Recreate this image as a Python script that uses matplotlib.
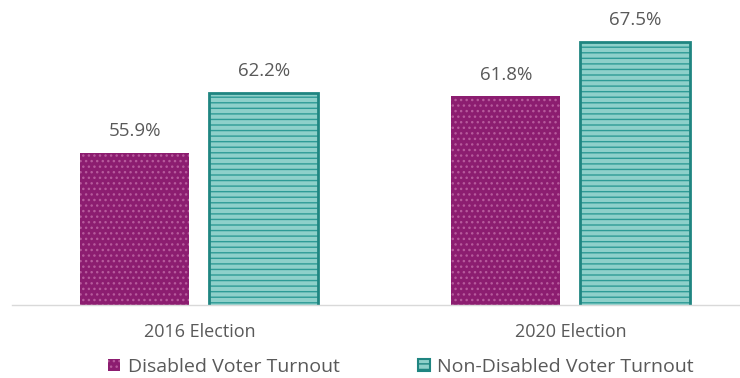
import matplotlib.pyplot as plt
import matplotlib.patches as mpatches
import numpy as np

# Turnout by election (percent)
elections = ['2016 Election', '2020 Election']
disabled = [55.9, 61.8]
non_disabled = [62.2, 67.5]
series_names = ['Disabled Voter Turnout', 'Non-Disabled Voter Turnout']

plt.rcParams['font.family'] = ['Open Sans', 'DejaVu Sans']
plt.rcParams['hatch.linewidth'] = 1.0

text_grey = '#595959'
purple = '#8C1D70'
purple_dot = '#B65A9C'
teal_fill = '#8ED0CA'
teal_line = '#2E9B96'
teal_edge = '#1F8581'

fig = plt.figure(figsize=(7.4, 3.78), dpi=100)
ax = fig.add_axes([12 / 740, 73 / 378, 728 / 740, 287 / 378])

x = np.arange(len(elections))
width = 0.294
offset = 0.174

# disabled bars: solid purple with a dotted texture
ax.bar(x - offset, disabled, width, color=purple, linewidth=0)
ax.bar(x - offset, disabled, width, facecolor='none', edgecolor=purple_dot,
       hatch='...', linewidth=0)

# non-disabled bars: light teal with horizontal stripes and dark outline
ax.bar(x + offset, non_disabled, width, facecolor=teal_fill, edgecolor=teal_line,
       hatch='---', linewidth=0)
ax.bar(x + offset, non_disabled, width, facecolor='none', edgecolor=teal_edge,
       linewidth=2)

for xi, v in zip(x - offset, disabled):
    ax.annotate(f'{v}%', (xi, v), xytext=(0, 9), textcoords='offset points',
                ha='center', va='bottom', fontsize=13.5, color=text_grey)
for xi, v in zip(x + offset, non_disabled):
    ax.annotate(f'{v}%', (xi, v), xytext=(0, 9), textcoords='offset points',
                ha='center', va='bottom', fontsize=13.5, color=text_grey)

ax.set_ylim(40, 70)
ax.set_xlim(-0.505, 1.457)
ax.set_xticks(x)
ax.set_xticklabels(elections, fontsize=13, color=text_grey)
ax.tick_params(axis='x', length=0, pad=13)
ax.set_yticks([])

for side in ['top', 'right', 'left']:
    ax.spines[side].set_visible(False)
ax.spines['bottom'].set_color('#D9D9D9')
ax.spines['bottom'].set_linewidth(1)

handles = [
    mpatches.Patch(facecolor=purple, edgecolor=purple_dot, hatch='...', linewidth=0),
    mpatches.Patch(facecolor=teal_fill, edgecolor=teal_edge, hatch='---', linewidth=1.5),
]
fig.legend(handles, series_names, loc='center', bbox_to_anchor=(0.542, 1 - 367 / 378),
           ncol=2, frameon=False, fontsize=14, labelcolor=text_grey,
           handlelength=0.62, handleheight=0.62, handletextpad=0.4, columnspacing=4.0)

fig.savefig('out.png', dpi=100, facecolor='white')
